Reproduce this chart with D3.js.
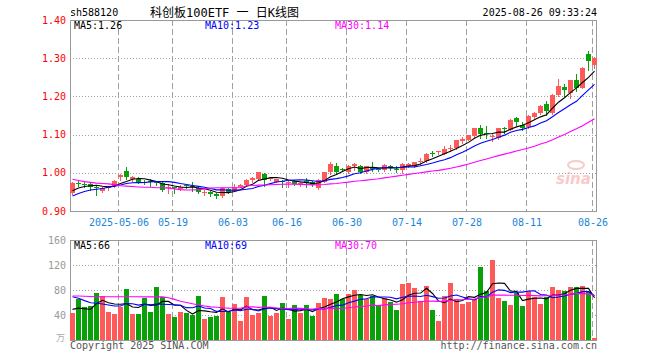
<!DOCTYPE html>
<html><head><meta charset="utf-8">
<script src="https://cdn.jsdelivr.net/npm/d3@7"></script>
<style>body{margin:0;background:#fff}svg{display:block}</style>
</head><body>
<svg id="c" width="660" height="360"></svg>
<script>
// ---- data ----
const dates = ["04-21","04-22","04-23","04-24","04-25","04-28","04-29","04-30",
"05-06","05-07","05-08","05-09","05-12","05-13","05-14","05-15","05-16","05-19","05-20","05-21","05-22","05-23","05-26","05-27","05-28","05-29","05-30",
"06-03","06-04","06-05","06-06","06-09","06-10","06-11","06-12","06-13","06-16","06-17","06-18","06-19","06-20","06-23","06-24","06-25","06-26","06-27","06-30",
"07-01","07-02","07-03","07-04","07-07","07-08","07-09","07-10","07-11","07-14","07-15","07-16","07-17","07-18","07-21","07-22","07-23","07-24","07-25","07-28","07-29","07-30","07-31",
"08-01","08-04","08-05","08-06","08-07","08-08","08-11","08-12","08-13","08-14","08-15","08-18","08-19","08-20","08-21","08-22","08-25","08-26"];
const open = [0.947,0.972,0.971,0.970,0.964,0.953,0.960,0.966,0.988,1.006,0.983,0.985,0.977,0.978,0.975,0.973,0.962,0.962,0.958,0.967,0.965,0.960,0.948,0.949,0.944,0.938,0.957,0.953,0.964,0.967,0.980,0.983,0.997,0.984,0.977,0.978,0.975,0.979,0.972,0.979,0.977,0.960,0.976,1.001,1.019,1.009,1.001,1.017,1.018,1.001,1.013,1.010,1.008,1.018,1.010,1.008,1.017,1.018,1.030,1.030,1.053,1.054,1.050,1.063,1.065,1.083,1.087,1.096,1.118,1.103,1.094,1.091,1.118,1.113,1.144,1.126,1.119,1.146,1.157,1.179,1.157,1.203,1.224,1.210,1.242,1.223,1.312,1.281];
const high = [0.976,0.978,0.976,0.976,0.966,0.962,0.966,0.981,0.997,1.014,0.991,0.988,0.981,0.984,0.979,0.975,0.970,0.964,0.967,0.970,0.976,0.962,0.955,0.953,0.946,0.962,0.960,0.970,0.971,0.983,0.990,1.003,1.000,0.990,0.985,0.980,0.979,0.981,0.976,0.987,0.979,0.983,1.003,1.028,1.026,1.013,1.020,1.026,1.021,1.019,1.027,1.013,1.023,1.021,1.017,1.025,1.025,1.029,1.039,1.052,1.058,1.058,1.069,1.072,1.087,1.093,1.100,1.118,1.124,1.122,1.104,1.118,1.119,1.141,1.146,1.133,1.151,1.159,1.178,1.187,1.205,1.245,1.232,1.244,1.258,1.276,1.319,1.303];
const low = [0.944,0.965,0.964,0.955,0.942,0.949,0.956,0.964,0.981,0.983,0.979,0.972,0.971,0.966,0.968,0.952,0.948,0.947,0.956,0.961,0.952,0.946,0.942,0.939,0.935,0.936,0.946,0.952,0.962,0.965,0.977,0.982,0.966,0.980,0.975,0.962,0.962,0.968,0.965,0.964,0.965,0.958,0.975,0.998,0.997,1.005,0.999,1.008,1.000,0.999,1.006,1.004,1.006,1.008,1.003,0.999,1.015,1.016,1.021,1.028,1.043,1.050,1.048,1.058,1.063,1.078,1.085,1.094,1.091,1.091,1.082,1.089,1.105,1.111,1.124,1.112,1.117,1.144,1.155,1.152,1.155,1.200,1.200,1.196,1.214,1.221,1.268,1.275];
const close = [0.973,0.970,0.969,0.962,0.962,0.960,0.963,0.979,0.995,0.989,0.989,0.974,0.975,0.977,0.972,0.955,0.964,0.960,0.964,0.965,0.963,0.950,0.950,0.944,0.938,0.960,0.949,0.964,0.968,0.982,0.986,1.001,0.982,0.986,0.983,0.977,0.977,0.970,0.974,0.973,0.968,0.982,1.001,1.023,1.003,1.008,1.018,1.023,1.003,1.017,1.012,1.009,1.021,1.012,1.009,1.023,1.023,1.027,1.032,1.050,1.051,1.056,1.061,1.065,1.085,1.089,1.098,1.116,1.102,1.102,1.096,1.116,1.117,1.139,1.133,1.118,1.148,1.157,1.176,1.161,1.203,1.227,1.216,1.242,1.223,1.274,1.293,1.300];
const volume = [43.7,65,52.3,54.4,75.7,70.4,45.3,41.6,53.3,81.6,41.6,41.6,67.7,44.8,85.3,69.3,41.6,37.3,44.8,43.7,40,70.4,34.1,37.3,38.9,68.8,45.3,57.6,30.9,68.8,40,43.2,70.4,38.9,43.7,59.2,33.6,55.5,43.2,55.5,38.9,59.2,67.2,65.6,73.6,65,73.6,80,72,65,70.9,56,66.7,61.3,48,89.6,91.7,83.2,62.9,86.4,48,30.9,70.4,91.7,65.6,57.6,61.3,65,117.3,78.4,128,67.2,62.4,56,75.7,54.4,78.4,69.3,57.6,69.3,84.8,80,78.4,84.8,84.8,86.4,78.4,3.7];
// moving-average values before enough bars are visible
const ma5Head = [0.953,0.960,0.964,0.966];
const ma10Head = [0.939,0.946,0.951,0.955,0.957,0.959,0.962,0.965,0.968];
const ma30Head = [0.983,0.980,0.977,0.975,0.973,0.972,0.971,0.969,0.966,0.965,0.964,0.963,0.962,0.962,0.961,0.961,0.960,0.958,0.956,0.955,0.955,0.956,0.958,0.960,0.961,0.961,0.961,0.961,0.961];
const vma5Head = [49,51,50,49];
const vma10Head = [69.3,66.7,63,59.7,58.7,57.6,56,54.4,54.4];
const vma30Head = [70.4,70.5,70,69.6,69.3,69.3,69.3,69.2,69.2,69.2,69.1,69.1,69,69,69,69,67.5,65,62,60,58,56,54.5,53,52.3,51.5,51,50.8,50.7];
const priceTicks = [0.90,1.00,1.10,1.20,1.30,1.40];
const volTicks = [40,80,120,160];
const dateTicks = ["05-06","05-19","06-03","06-16","06-30","07-14","07-28","08-11","08-26"];
const dateTickLabels = ["2025-05-06","05-19","06-03","06-16","06-30","07-14","07-28","08-11","08-26"];
const priceLegend = ["MA5:1.26","MA10:1.23","MA30:1.14"];
const volLegend = ["MA5:66","MA10:69","MA30:70"];

// ---- drawing ----
const RED="#ff5a5a", GREEN="#0aa00a", GRID="#a0a0a0", FRAME="#999";
const MONO="'DejaVu Sans Mono', monospace";
const svg=d3.select("#c");
const L=70,R=597,T1=20,B1=211,T2=240,B2=340;
const idx=d3.range(dates.length);
const x=d3.scaleBand().domain(idx).range([70,70+6*dates.length]).padding(0);
const y=d3.scaleLinear().domain([0.90,1.40]).range([B1,T1]);
const yv=d3.scaleLinear().domain([0,160]).range([B2,T2]);
const cx=i=>x(i)+2.5;

function ma(arr,n,head){return arr.map((_,i)=>i<n-1?head[i]:d3.mean(arr.slice(i-n+1,i+1)));}

// header
svg.append("text").attr("x",70).attr("y",16).attr("font-family",MONO).attr("font-size",10).attr("fill","#000").text("sh588120");
svg.append("text").attr("x",150).attr("y",17).attr("font-family","'DejaVu Sans Mono','Noto Sans CJK SC'").attr("font-size",12).attr("fill","#000").text("科创板100ETF 一 日K线图");
svg.append("text").attr("x",597).attr("y",16).attr("text-anchor","end").attr("font-family",MONO).attr("font-size",10).attr("fill","#000").text("2025-08-26 09:33:24");

svg.append("defs").call(d=>{
  d.append("clipPath").attr("id","cp1").append("rect").attr("x",L).attr("y",T1).attr("width",R-L).attr("height",B1-T1);
  d.append("clipPath").attr("id","cp2").append("rect").attr("x",L).attr("y",T2).attr("width",R-L).attr("height",B2-T2);
});

function panel(top,bottom,ys,ticks,labelColor,fmt,legend){
  const g=svg.append("g");
  // horizontal dotted grid
  g.selectAll(".h").data(ticks.filter(t=>Math.round(ys(t))>top+1&&Math.round(ys(t))<bottom-1)).join("line")
    .attr("x1",L).attr("x2",R).attr("y1",d=>Math.round(ys(d))+0.5).attr("y2",d=>Math.round(ys(d))+0.5)
    .attr("stroke",GRID).attr("stroke-dasharray","1,2");
  // vertical dashed grid
  g.selectAll(".v").data(dateTicks).join("line")
    .attr("x1",d=>x(dates.indexOf(d))+0.5).attr("x2",d=>x(dates.indexOf(d))+0.5)
    .attr("y1",top).attr("y2",bottom).attr("stroke",GRID).attr("stroke-dasharray","6,3");
  // frame
  g.append("rect").attr("x",L+0.5).attr("y",top+0.5).attr("width",R-L-1).attr("height",bottom-top).attr("fill","none").attr("stroke",FRAME);
  // labels
  g.selectAll(".t").data(ticks).join("text").attr("x",66).attr("y",d=>ys(d)).attr("dy","0.35em")
    .attr("text-anchor","end").attr("font-family",MONO).attr("font-size",10).attr("fill",labelColor).text(fmt);
  const cols=["#000","#0000ff","#ff00ff"], xs=[74,205,335];
  legend.forEach((t,k)=>g.append("text").attr("x",xs[k]).attr("y",top+9).attr("font-family",MONO).attr("font-size",10).attr("fill",cols[k]).text(t));
  return g;
}
panel(T1,B1,y,priceTicks,"#ff0000",d=>d.toFixed(2),priceLegend);
panel(T2,B2,yv,volTicks,"#999",d=>d,volLegend);
svg.append("text").attr("x",65).attr("y",B2+1).attr("text-anchor","end").attr("font-family","'Noto Sans CJK SC'").attr("font-size",9).attr("fill","#aaa").text("万");

// x labels
svg.selectAll(".xl").data(dateTicks).join("text").attr("x",(d)=>x(dates.indexOf(d))+1).attr("y",226)
  .attr("text-anchor","middle").attr("font-family",MONO).attr("font-size",10).attr("fill","#1a86d9").text((d,k)=>dateTickLabels[k]);

// watermark
const wm=svg.append("g").attr("opacity",0.55);
wm.append("ellipse").attr("cx",576).attr("cy",165).attr("rx",8).attr("ry",4).attr("fill","none").attr("stroke","#f3a0a0").attr("stroke-width",2);
wm.append("text").attr("x",556).attr("y",184).attr("font-family","'DejaVu Sans'").attr("font-style","italic").attr("font-weight","bold").attr("font-size",15).attr("fill","#f3a0a0").text("sina");

// candles
const up=i=>close[i]>=open[i];
const cg=svg.append("g");
cg.selectAll(".w").data(idx).join("line")
  .attr("x1",i=>cx(i)).attr("x2",i=>cx(i)).attr("y1",i=>Math.round(y(high[i]))).attr("y2",i=>Math.round(y(low[i]))+1)
  .attr("stroke",i=>up(i)?RED:GREEN);
cg.selectAll(".b").data(idx).join("rect")
  .attr("x",i=>x(i)).attr("width",5)
  .attr("y",i=>Math.round(y(Math.max(open[i],close[i]))))
  .attr("height",i=>Math.max(1,Math.round(y(Math.min(open[i],close[i])))-Math.round(y(Math.max(open[i],close[i])))))
  .attr("fill",i=>up(i)?RED:GREEN);

// price MAs
const line=(ys)=>d3.line().x((d,i)=>cx(i)).y(d=>ys(d));
const pm=[[ma(close,5,ma5Head),"#000"],[ma(close,10,ma10Head),"#0000ff"],[ma(close,30,ma30Head),"#ff00ff"]];
pm.forEach(([s,c])=>svg.append("path").attr("d",line(y)(s)).attr("fill","none").attr("stroke",c).attr("stroke-width",1.1).attr("clip-path","url(#cp1)"));

// volume bars
svg.append("g").selectAll("rect").data(idx).join("rect")
  .attr("x",i=>x(i)).attr("width",5).attr("y",i=>Math.round(yv(volume[i])))
  .attr("height",i=>B2-Math.round(yv(volume[i]))).attr("fill",i=>up(i)?RED:GREEN);
const vm=[[ma(volume,5,vma5Head),"#000"],[ma(volume,10,vma10Head),"#0000ff"],[ma(volume,30,vma30Head),"#ff00ff"]];
vm.forEach(([s,c])=>svg.append("path").attr("d",line(yv)(s)).attr("fill","none").attr("stroke",c).attr("stroke-width",1.1).attr("clip-path","url(#cp2)"));

// footer
svg.append("text").attr("x",70).attr("y",349).attr("font-family",MONO).attr("font-size",10).attr("fill","#555").text("Copyright 2025 SINA.COM");
svg.append("text").attr("x",597).attr("y",349).attr("text-anchor","end").attr("font-family",MONO).attr("font-size",10).attr("fill","#555").text("http://finance.sina.com.cn");
</script>
</body></html>
